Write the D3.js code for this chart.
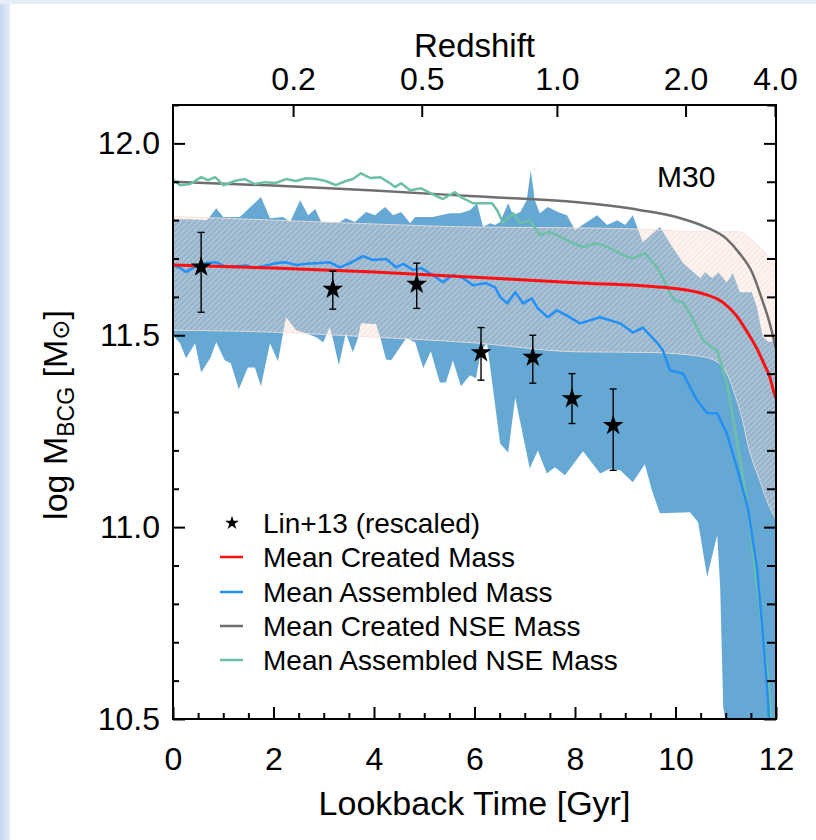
<!DOCTYPE html>
<html><head><meta charset="utf-8">
<script src="https://cdn.jsdelivr.net/npm/d3@7"></script>
<style>
body{margin:0;background:#fff;}
svg{display:block;}
text{font-family:"Liberation Sans",Arial,sans-serif;fill:#000;}
</style>
</head><body>
<svg id="c" width="816" height="840"></svg>
<script>
// ---------------- DATA ----------------
const gyrTicks = [0, 2, 4, 6, 8, 10, 12];
const massTicks = [10.5, 11.0, 11.5, 12.0];
const redshiftLabels = ["0.2", "0.5", "1.0", "2.0", "4.0"];
const redshiftLookback = [2.39, 4.95, 7.64, 10.20, 11.98];

const legendLabels = ["Lin+13 (rescaled)", "Mean Created Mass", "Mean Assembled Mass",
                      "Mean Created NSE Mass", "Mean Assembled NSE Mass"];

// Mean Created Mass (red)
const createdMass = [[0,11.683],[2,11.675],[4,11.665],[6,11.651],[8,11.637],[9.75,11.625],
  [10.5,11.61],[10.95,11.585],[11.22,11.55],[11.42,11.51],[11.62,11.465],[11.78,11.42],
  [11.88,11.39],[11.95,11.355],[12,11.335]];

// Mean Created NSE Mass (gray)
const createdNseMass = [[0,11.900],[2,11.89],[4,11.877],[6,11.862],[8,11.847],[9.3,11.826],
  [10.1,11.805],[10.6,11.782],[11.0,11.753],[11.27,11.714],[11.53,11.662],[11.73,11.59],
  [11.86,11.538],[11.96,11.487],[12,11.465]];

// Mean Assembled Mass (blue)
const assembledMass = [[0,11.683],[0.14,11.675],[0.26,11.665],[0.46,11.68],[0.66,11.688],
  [0.86,11.69],[1.06,11.678],[1.46,11.682],[1.6,11.675],[1.9,11.683],[2.06,11.688],[2.25,11.69],
  [2.45,11.683],[2.65,11.686],[2.93,11.688],[3.12,11.69],[3.32,11.677],[3.52,11.688],[3.78,11.706],
  [3.98,11.696],[4.24,11.699],[4.44,11.677],[4.58,11.686],[4.78,11.67],[4.94,11.675],[5.17,11.657],
  [5.37,11.638],[5.57,11.657],[5.77,11.649],[5.97,11.63],[6.23,11.636],[6.41,11.625],[6.51,11.60],
  [6.65,11.583],[6.81,11.612],[6.97,11.583],[7.14,11.596],[7.26,11.57],[7.46,11.547],[7.64,11.565],
  [7.84,11.551],[8.10,11.531],[8.50,11.547],[8.90,11.531],[9.15,11.507],[9.35,11.52],[9.63,11.481],
  [9.75,11.46],[9.89,11.409],[10.15,11.40],[10.43,11.33],[10.63,11.297],[10.83,11.297],[11.02,11.245],
  [11.22,11.156],[11.44,11.05],[11.62,10.895],[11.74,10.72],[11.84,10.55],[11.88,10.45]];

// Mean Assembled NSE Mass (teal)
const assembledNseMass = [[0,11.906],[0.14,11.891],[0.34,11.894],[0.56,11.912],[0.70,11.904],
  [0.84,11.912],[1.00,11.891],[1.23,11.902],[1.43,11.907],[1.63,11.894],[1.83,11.899],[2.05,11.897],
  [2.25,11.907],[2.45,11.902],[2.65,11.909],[2.85,11.907],[3.04,11.902],[3.24,11.891],[3.44,11.902],
  [3.58,11.907],[3.74,11.922],[3.92,11.91],[4.12,11.912],[4.32,11.896],[4.42,11.886],[4.54,11.896],
  [4.72,11.878],[4.94,11.883],[5.13,11.87],[5.37,11.855],[5.61,11.873],[5.73,11.86],[5.97,11.844],
  [6.11,11.844],[6.35,11.844],[6.45,11.826],[6.57,11.792],[6.77,11.818],[6.91,11.792],[7.10,11.80],
  [7.30,11.761],[7.50,11.769],[7.64,11.761],[7.90,11.743],[8.16,11.73],[8.44,11.74],[8.70,11.727],
  [8.96,11.709],[9.15,11.70],[9.39,11.714],[9.63,11.677],[9.75,11.649],[9.89,11.609],[9.99,11.591],
  [10.15,11.586],[10.29,11.557],[10.55,11.487],[10.75,11.466],[10.83,11.46],[11.02,11.375],
  [11.22,11.226],[11.42,11.07],[11.62,10.85],[11.82,10.63],[11.92,10.495],[11.96,10.42]];

// Scatter of created mass (hatched band): [t, lower, upper]
const createdBand = [[0,11.513,11.81],[2,11.508,11.80],[4,11.495,11.79],[6,11.48,11.782],
  [8,11.457,11.78],[9.5,11.455,11.776],[10.5,11.445,11.77],[10.83,11.43,11.77],[11.02,11.40,11.77],
  [11.22,11.33,11.77],[11.35,11.27,11.768],[11.42,11.226,11.76],[11.68,11.12,11.73],
  [11.88,11.05,11.70],[12,11.02,11.69]];

// Scatter of assembled mass (solid blue band): upper and lower edges
const assembledBandUpper = [[0,11.802],[0.32,11.802],[0.68,11.80],[0.86,11.831],[1.0,11.808],
  [1.33,11.808],[1.75,11.86],[1.93,11.805],[2.19,11.808],[2.33,11.795],[2.53,11.852],[2.69,11.813],
  [2.83,11.829],[2.95,11.795],[3.32,11.795],[3.44,11.805],[3.62,11.795],[3.84,11.821],[4.02,11.813],
  [4.22,11.834],[4.38,11.813],[4.54,11.821],[4.72,11.792],[4.82,11.808],[5.17,11.808],[5.51,11.818],
  [5.71,11.818],[5.91,11.826],[6.05,11.844],[6.17,11.782],[6.31,11.792],[6.41,11.787],[6.51,11.795],
  [6.67,11.844],[6.77,11.813],[6.91,11.821],[7.04,11.852],[7.12,11.93],[7.20,11.852],[7.30,11.818],
  [7.46,11.834],[7.66,11.821],[7.84,11.813],[8.0,11.774],[8.44,11.813],[8.64,11.787],[8.84,11.80],
  [9.0,11.787],[9.15,11.813],[9.35,11.742],[9.69,11.782],[9.89,11.74],[10.15,11.688],[10.49,11.649],
  [10.59,11.664],[10.73,11.649],[10.85,11.664],[11.02,11.638],[11.14,11.662],[11.28,11.612],
  [11.52,11.612],[11.62,11.573],[11.74,11.495],[11.86,11.482],[12,11.487]];
const assembledBandLower = [[0,11.50],[0.14,11.479],[0.26,11.44],[0.44,11.479],[0.56,11.403],
  [0.74,11.44],[0.86,11.482],[1.03,11.435],[1.15,11.427],[1.31,11.359],[1.49,11.416],[1.63,11.416],
  [1.75,11.367],[1.93,11.479],[2.09,11.432],[2.19,11.505],[2.25,11.547],[2.45,11.513],[2.65,11.505],
  [2.85,11.495],[2.99,11.482],[3.12,11.521],[3.18,11.492],[3.30,11.422],[3.44,11.505],[3.58,11.456],
  [3.68,11.492],[3.74,11.531],[4.04,11.529],[4.14,11.487],[4.24,11.437],[4.34,11.435],[4.64,11.492],
  [4.82,11.482],[4.98,11.414],[5.13,11.458],[5.31,11.377],[5.43,11.377],[5.57,11.435],[5.73,11.367],
  [5.91,11.396],[6.03,11.388],[6.13,11.461],[6.25,11.479],[6.51,11.218],[6.67,11.194],[6.81,11.338],
  [7.10,11.153],[7.26,11.20],[7.44,11.14],[7.60,11.156],[7.80,11.135],[8.16,11.198],[8.50,11.14],
  [8.70,11.153],[8.90,11.148],[9.15,11.117],[9.39,11.164],[9.53,11.096],[9.69,11.036],[10.29,11.039],
  [10.45,11.013],[10.63,10.87],[10.83,10.98],[10.89,10.84],[10.95,10.53],[11.02,10.48],[11.1,10.3],
  [12,10.3]];

// Lin+13 (rescaled) observations
const linTime = [0.56, 3.18, 4.85, 6.13, 7.16, 7.94, 8.76];
const linMass = [11.678, 11.62, 11.633, 11.455, 11.443, 11.335, 11.265];
const linLow  = [11.56, 11.568, 11.57, 11.383, 11.375, 11.27, 11.148];
const linHigh = [11.768, 11.667, 11.688, 11.52, 11.50, 11.40, 11.36];

// ---------------- DRAWING ----------------
const W = 816, H = 840;
const L = 173, R = 776, T = 105, B = 719;
const colRed = "#ff1010", colBlue = "#2490f5", colGray = "#6e6e6e", colTeal = "#6cc0a6";
const colBand = "#64a8d3";

const svg = d3.select("#c");
const x = d3.scaleLinear().domain([0, 12]).range([L, R]);
const y = d3.scaleLinear().domain([10.5, 12.1]).range([B, T]);

const defs = svg.append("defs");
const lg = defs.append("linearGradient").attr("id", "frameL").attr("x1", 0).attr("x2", 1).attr("y1", 0).attr("y2", 0);
lg.append("stop").attr("offset", "0%").attr("stop-color", "#c4d8f0");
lg.append("stop").attr("offset", "100%").attr("stop-color", "#e6eef9");
defs.append("clipPath").attr("id", "clip").append("rect")
  .attr("x", L).attr("y", T).attr("width", R - L).attr("height", B - T);
const pat = defs.append("pattern").attr("id", "hatch").attr("patternUnits", "userSpaceOnUse")
  .attr("width", 4).attr("height", 4).attr("patternTransform", "rotate(-45)");
pat.append("rect").attr("width", 4).attr("height", 4).attr("fill", "#fbd8ca").attr("fill-opacity", 0.28);
pat.append("rect").attr("width", 4).attr("height", 2).attr("fill", "#fbd8ca").attr("fill-opacity", 0.34);

svg.append("rect").attr("width", W).attr("height", H).attr("fill", "#fff");
svg.append("rect").attr("x", 0).attr("y", 0).attr("width", 10).attr("height", H).attr("fill", "url(#frameL)");
svg.append("rect").attr("x", 0).attr("y", 0).attr("width", W).attr("height", 4).attr("fill", "#e4edf8");

const plot = svg.append("g").attr("clip-path", "url(#clip)");

const line = d3.line().x(d => x(d[0])).y(d => y(d[1]));
const smooth = d3.line().x(d => x(d[0])).y(d => y(d[1])).curve(d3.curveMonotoneX);

// assembled band (solid)
plot.append("path")
  .attr("d", line(assembledBandUpper.concat(assembledBandLower.slice().reverse())) + "Z")
  .attr("fill", colBand);

// created band (hatched, translucent pink)
const bandArea = d3.area().x(d => x(d[0])).y0(d => y(d[1])).y1(d => y(d[2])).curve(d3.curveMonotoneX);
plot.append("path").attr("d", bandArea(createdBand))
  .attr("fill", "url(#hatch)").attr("stroke", "#f3e2dc").attr("stroke-opacity", 0.8).attr("stroke-width", 1);

// lines
plot.append("path").attr("d", smooth(createdNseMass)).attr("fill", "none")
  .attr("stroke", colGray).attr("stroke-width", 2.5);
plot.append("path").attr("d", line(assembledNseMass)).attr("fill", "none")
  .attr("stroke", colTeal).attr("stroke-width", 2.5).attr("stroke-linejoin", "round");
plot.append("path").attr("d", line(assembledMass)).attr("fill", "none")
  .attr("stroke", colBlue).attr("stroke-width", 2.5).attr("stroke-linejoin", "round");
plot.append("path").attr("d", smooth(createdMass)).attr("fill", "none")
  .attr("stroke", colRed).attr("stroke-width", 3);

// observations
const obs = linTime.map((t, i) => ({t, m: linMass[i], lo: linLow[i], hi: linHigh[i]}));
const og = plot.append("g");
og.selectAll("line.eb").data(obs).join("line").attr("class", "eb")
  .attr("x1", d => x(d.t)).attr("x2", d => x(d.t)).attr("y1", d => y(d.lo)).attr("y2", d => y(d.hi))
  .attr("stroke", "#000").attr("stroke-width", 1.4);
["lo", "hi"].forEach(k => {
  og.selectAll("line.cap" + k).data(obs).join("line").attr("class", "cap" + k)
    .attr("x1", d => x(d.t) - 3.5).attr("x2", d => x(d.t) + 3.5)
    .attr("y1", d => y(d[k])).attr("y2", d => y(d[k]))
    .attr("stroke", "#000").attr("stroke-width", 1.4);
});
const star = d3.symbol().type(d3.symbolStar).size(135);
og.selectAll("path.star").data(obs).join("path").attr("class", "star")
  .attr("d", star).attr("transform", d => `translate(${x(d.t)},${y(d.m)})`).attr("fill", "#000");

// ---------------- AXES ----------------
const axStyle = g => {
  g.select(".domain").remove();
  g.selectAll(".tick line").attr("stroke", "#000").attr("stroke-width", 2);
  g.selectAll("text").attr("font-family", '"Liberation Sans", Arial, sans-serif')
    .attr("font-size", 32).attr("fill", "#000");
};
const minorX = d3.range(0, 12.01, 0.5).filter(v => Math.abs(v / 2 - Math.round(v / 2)) > 1e-6);
const minorY = d3.range(10.5, 12.101, 0.1).map(v => +v.toFixed(1)).filter(v => !massTicks.includes(v));

svg.append("g").attr("transform", `translate(0,${B})`)
  .call(d3.axisBottom(x).tickValues(gyrTicks).tickSize(-12).tickPadding(28).tickFormat(d3.format("d"))).call(axStyle);
svg.append("g").attr("transform", `translate(0,${B})`)
  .call(d3.axisBottom(x).tickValues(minorX).tickSize(-6).tickFormat("")).call(axStyle);
svg.append("g").attr("transform", `translate(${L},0)`)
  .call(d3.axisLeft(y).tickValues(massTicks).tickSize(-12).tickPadding(13).tickFormat(d3.format(".1f"))).call(axStyle);
svg.append("g").attr("transform", `translate(${L},0)`)
  .call(d3.axisLeft(y).tickValues(minorY).tickSize(-6).tickFormat("")).call(axStyle);
svg.append("g").attr("transform", `translate(${R},0)`)
  .call(d3.axisRight(y).tickValues(massTicks).tickSize(-12).tickFormat("")).call(axStyle);
svg.append("g").attr("transform", `translate(${R},0)`)
  .call(d3.axisRight(y).tickValues(minorY).tickSize(-9).tickFormat("")).call(axStyle);
svg.append("g").attr("transform", `translate(0,${T})`)
  .call(d3.axisTop(x).tickValues(redshiftLookback).tickSize(-12).tickPadding(15)
    .tickFormat((d, i) => redshiftLabels[i])).call(axStyle);

// frame
svg.append("rect").attr("x", L).attr("y", T).attr("width", R - L).attr("height", B - T)
  .attr("fill", "none").attr("stroke", "#000").attr("stroke-width", 2);

// titles
svg.append("text").attr("x", (L + R) / 2).attr("y", 57).attr("text-anchor", "middle")
  .attr("font-size", 33).text("Redshift");
svg.append("text").attr("x", (L + R) / 2).attr("y", 815).attr("text-anchor", "middle")
  .attr("font-size", 34).text("Lookback Time [Gyr]");
const yl = svg.append("text").attr("transform", `translate(67,${(T + B) / 2 + 3}) rotate(-90)`)
  .attr("text-anchor", "middle").attr("font-size", 34);
yl.append("tspan").text("log M");
yl.append("tspan").attr("font-size", 23).attr("dy", 7).text("BCG");
yl.append("tspan").attr("dy", -7).text(" [M");
yl.append("tspan").attr("font-family", '"DejaVu Sans", sans-serif').attr("font-size", 24).attr("dy", 2).text("⊙");
yl.append("tspan").attr("dy", -2).text("]");

svg.append("text").attr("x", 657).attr("y", 187).attr("font-size", 30).text("M30");

// legend
const legY = [523, 557, 592, 626, 660];
const legColors = [null, colRed, colBlue, colGray, colTeal];
const leg = svg.append("g");
legendLabels.forEach((lab, i) => {
  if (i === 0) {
    leg.append("path").attr("d", d3.symbol().type(d3.symbolStar).size(60)())
      .attr("transform", `translate(232,${legY[i]})`).attr("fill", "#000");
  } else {
    leg.append("line").attr("x1", 220).attr("x2", 243).attr("y1", legY[i]).attr("y2", legY[i])
      .attr("stroke", legColors[i]).attr("stroke-width", 2.5);
  }
  leg.append("text").attr("x", 263).attr("y", legY[i]).attr("dy", "0.36em")
    .attr("font-size", 28).text(lab);
});
</script>
</body></html>
